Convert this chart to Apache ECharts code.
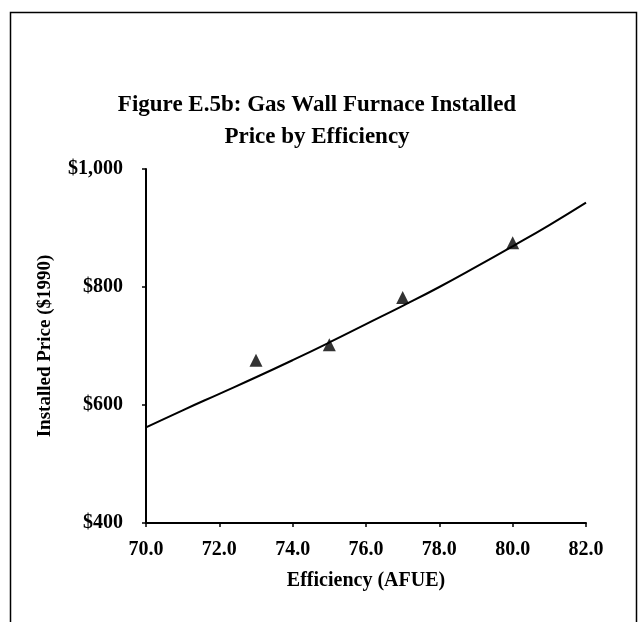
<!DOCTYPE html>
<html>
<head>
<meta charset="utf-8">
<script src="https://cdn.jsdelivr.net/npm/echarts@6/dist/echarts.min.js"></script>
<style>
  html, body { margin: 0; padding: 0; background: #fff; }
  #chart { width: 641px; height: 622px; }
</style>
</head>
<body>
<div id="chart"></div>
<script>
// Observed installed prices by efficiency level
const observedEfficiency = [73.0, 75.0, 77.0, 80.0];
const observedPrice = [676, 702, 782, 875];

// Fitted price curve
const curveEfficiency = [70, 71, 72, 73, 74, 75, 76, 77, 78, 79, 80, 81, 82];
const curvePrice = [562, 591, 619, 647, 676, 706, 737, 768, 800, 834, 869, 905, 943];

// Axis ticks
const xTicks = [70, 72, 74, 76, 78, 80, 82];
const yTicks = [400, 600, 800, 1000];

const FONT = '"Liberation Serif", "Times New Roman", serif';

const chart = echarts.init(document.getElementById('chart'), null, { renderer: 'canvas' });

const fmtDollar = v => '$' + v.toLocaleString('en-US');

chart.setOption({
  backgroundColor: '#fff',
  animation: false,
  title: {
    text: 'Figure E.5b: Gas Wall Furnace Installed\nPrice by Efficiency',
    left: 312,
    top: 84,
    textAlign: 'center',
    textStyle: {
      fontFamily: FONT,
      fontWeight: 'bold',
      fontSize: 23,
      lineHeight: 32,
      color: '#000'
    }
  },
  graphic: [{
    type: 'rect',
    shape: { x: 10.5, y: 12.5, width: 626, height: 640 },
    style: { fill: 'none', stroke: '#000', lineWidth: 1.5 },
    silent: true
  }],
  grid: { left: 146, right: 55, top: 169, bottom: 99 },
  xAxis: {
    type: 'value',
    min: xTicks[0],
    max: xTicks[xTicks.length - 1],
    interval: 2,
    name: 'Efficiency (AFUE)',
    nameLocation: 'middle',
    nameGap: 48,
    nameTextStyle: { fontFamily: FONT, fontWeight: 'bold', fontSize: 20, color: '#000' },
    axisLine: { lineStyle: { color: '#000', width: 2 } },
    axisTick: { show: true, length: 4, lineStyle: { color: '#000', width: 1.5 } },
    axisLabel: {
      formatter: v => v.toFixed(1),
      fontFamily: FONT, fontWeight: 'bold', fontSize: 20, color: '#000', margin: 17
    },
    splitLine: { show: false }
  },
  yAxis: {
    type: 'value',
    min: yTicks[0],
    max: yTicks[yTicks.length - 1],
    interval: 200,
    name: 'Installed Price ($1990)',
    nameLocation: 'middle',
    nameGap: 91,
    nameRotate: 90,
    nameTextStyle: { fontFamily: FONT, fontWeight: 'bold', fontSize: 19, color: '#000' },
    axisLine: { show: true, lineStyle: { color: '#000', width: 2 } },
    axisTick: { show: true, length: 4, lineStyle: { color: '#000', width: 1.5 } },
    axisLabel: {
      formatter: fmtDollar,
      fontFamily: FONT, fontWeight: 'bold', fontSize: 20, color: '#000', margin: 23
    },
    splitLine: { show: false }
  },
  series: [
    {
      type: 'line',
      data: curveEfficiency.map((x, i) => [x, curvePrice[i]]),
      smooth: true,
      showSymbol: false,
      lineStyle: { color: '#000', width: 2 },
      z: 2
    },
    {
      type: 'scatter',
      data: observedEfficiency.map((x, i) => [x, observedPrice[i]]),
      symbol: 'triangle',
      symbolSize: 13,
      itemStyle: { color: '#000' },
      z: 3
    }
  ]
});
</script>
</body>
</html>
